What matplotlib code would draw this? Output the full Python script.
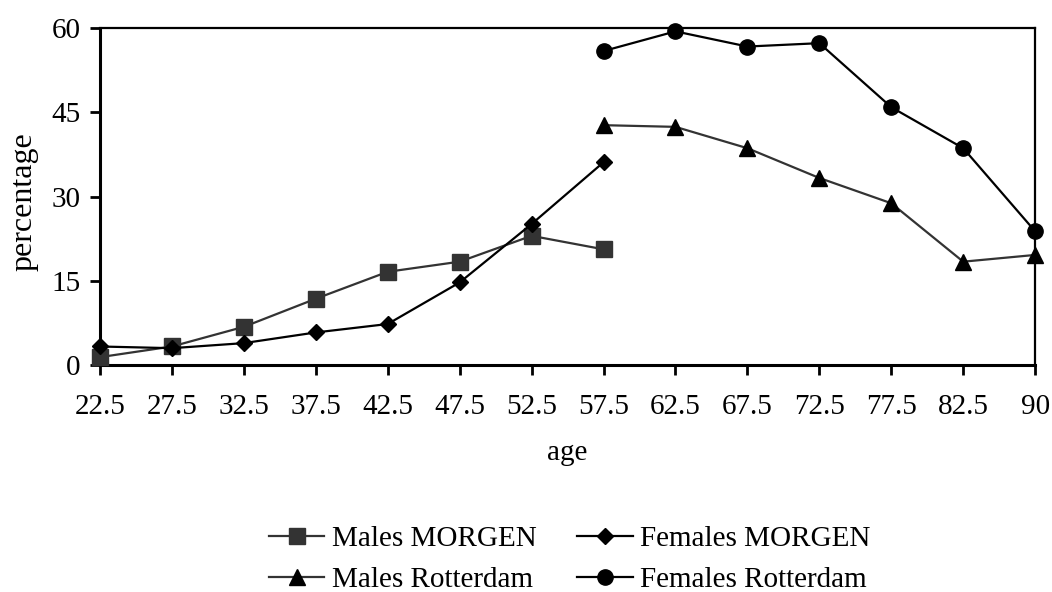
import numpy as np
import matplotlib.pyplot as plt

plt.rcParams['font.family'] = ['Liberation Serif', 'DejaVu Serif']

ages = ["22.5", "27.5", "32.5", "37.5", "42.5", "47.5", "52.5",
        "57.5", "62.5", "67.5", "72.5", "77.5", "82.5", "90"]
nan = np.nan
males_morgen = [1.4, 3.3, 6.8, 11.8, 16.6, 18.4, 23.0, 20.6,
                nan, nan, nan, nan, nan, nan]
females_morgen = [3.3, 3.0, 3.9, 5.8, 7.3, 14.7, 25.1, 36.1,
                  nan, nan, nan, nan, nan, nan]
males_rotterdam = [nan, nan, nan, nan, nan, nan, nan,
                   42.7, 42.4, 38.6, 33.3, 28.8, 18.4, 19.6]
females_rotterdam = [nan, nan, nan, nan, nan, nan, nan,
                     55.9, 59.4, 56.7, 57.3, 45.9, 38.6, 23.8]

x = np.arange(len(ages))

fig = plt.figure(figsize=(10.52, 5.92), dpi=100)
ax = fig.add_axes([0.095, 0.3834, 0.889, 0.5693])

l1, = ax.plot(x, males_morgen, color='#333333', lw=1.6, marker='s', ms=11,
              clip_on=False, zorder=3, label="Males MORGEN")
l2, = ax.plot(x, females_morgen, color='black', lw=1.6, marker='D', ms=8,
              clip_on=False, zorder=3, label="Females MORGEN")
l3, = ax.plot(x, males_rotterdam, color='#333333', lw=1.6, marker='^', ms=12,
              markerfacecolor='black', markeredgecolor='black',
              clip_on=False, zorder=3, label="Males Rotterdam")
l4, = ax.plot(x, females_rotterdam, color='black', lw=1.6, marker='o', ms=11,
              clip_on=False, zorder=3, label="Females Rotterdam")

ax.set_xlim(0, len(ages) - 1)
ax.set_ylim(0, 60)
ax.set_yticks([0, 15, 30, 45, 60])
ax.set_xticks(x)
ax.set_xticklabels(ages)
ax.tick_params(labelsize=21, width=2, length=7, direction='out')
ax.tick_params(axis='x', pad=14)
ax.tick_params(axis='y', pad=7)
for s in ['left', 'bottom']:
    ax.spines[s].set_linewidth(2.2)
for s in ['top', 'right']:
    ax.spines[s].set_linewidth(1.6)

ax.set_xlabel('age', fontsize=21, labelpad=14)
ax.set_ylabel('percentage', fontsize=23)
ax.yaxis.set_label_coords(-0.066, 0.484)

fig.legend([l1, l3, l2, l4],
           ["Males MORGEN", "Males Rotterdam", "Females MORGEN", "Females Rotterdam"],
           loc='center', bbox_to_anchor=(569.5 / 1052, 0.055), ncol=2,
           frameon=False, fontsize=21, handlelength=1.9, handletextpad=0.25,
           columnspacing=1.4, labelspacing=0.5)

fig.savefig('out.png', dpi=100)
